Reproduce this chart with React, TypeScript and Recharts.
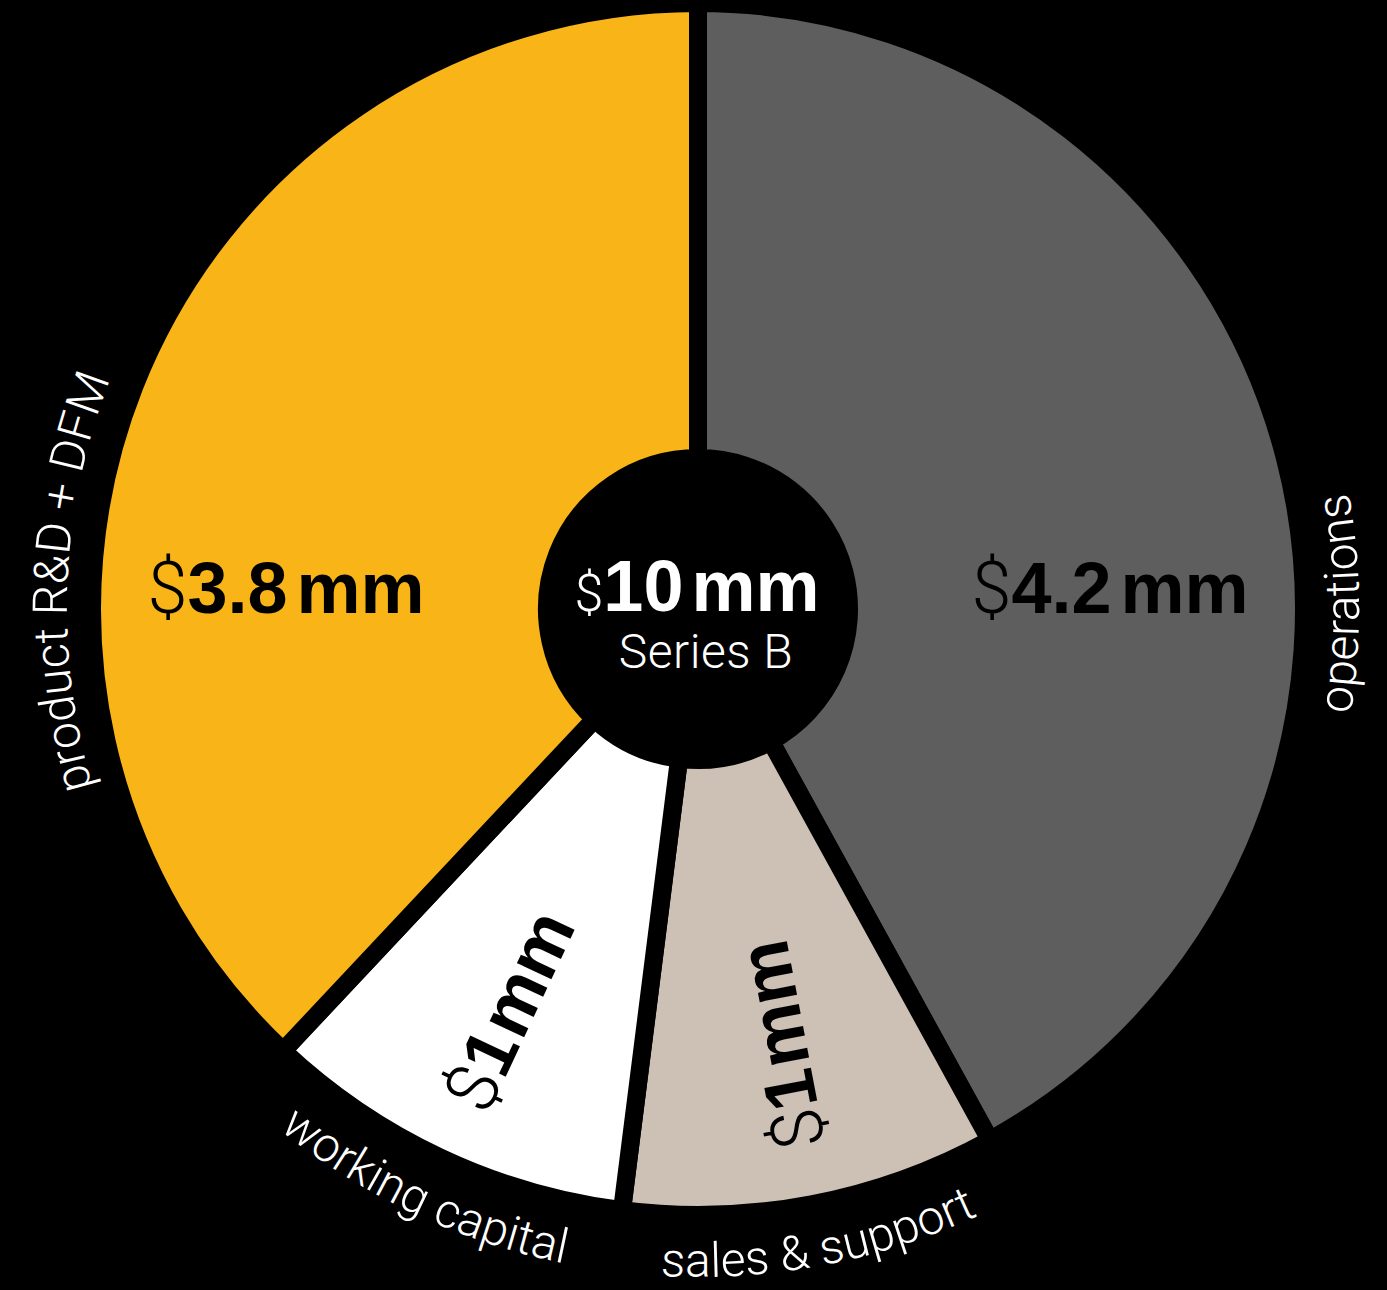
import { Cell, Pie, PieChart } from 'recharts'

const categories = ['operations', 'sales & support', 'working capital', 'product R&D + DFM']
const amounts = [4.2, 1, 1, 3.8]
const amountText = ['4.2', '1', '1', '3.8']
const sliceColors = ['#5e5e5e', '#cdc1b5', '#ffffff', '#f9b518']
const totalText = '10'
const roundName = 'Series B'

const rows = categories.map((name, i) => ({ name, value: amounts[i] }))

const RAD = Math.PI / 180
const W = 1387
const H = 1290
const CX = 698
const CY = 609
const BOLD = '"Liberation Sans", Arial, sans-serif'
const LIGHT = 'Roboto, "Liberation Sans", sans-serif'

const pt = (cx: number, cy: number, r: number, a: number) => ({
  x: cx + r * Math.cos(a * RAD),
  y: cy - r * Math.sin(a * RAD),
})

function arcPath(cx: number, cy: number, r: number, mid: number, topsOut: boolean) {
  const span = 45
  if (topsOut) {
    const s = pt(cx, cy, r, mid + span)
    const e = pt(cx, cy, r, mid - span)
    return `M ${s.x} ${s.y} A ${r} ${r} 0 0 1 ${e.x} ${e.y}`
  }
  const s = pt(cx, cy, r, mid - span)
  const e = pt(cx, cy, r, mid + span)
  return `M ${s.x} ${s.y} A ${r} ${r} 0 0 0 ${e.x} ${e.y}`
}

function Amount({ index }: { index: number }) {
  return (
    <>
      <tspan fontFamily={LIGHT} fontWeight={300}>$</tspan>
      <tspan fontWeight={700}>{amountText[index]}</tspan>
      <tspan fontWeight={700} dx={index === 1 || index === 2 ? 3 : 9}>mm</tspan>
    </>
  )
}

function SliceLabel(props: any) {
  const { cx, cy, midAngle, outerRadius, index, percent } = props
  const big = percent > 0.25
  const side = Math.cos(midAngle * RAD) >= 0 ? 1 : -1

  let value
  if (big) {
    value = (
      <text x={cx + side * 412} y={cy + 4} textAnchor="middle" fill="#000" fontSize={72} fontFamily={BOLD}>
        <Amount index={index} />
      </text>
    )
  } else {
    const p = pt(cx, cy, 444, midAngle)
    const rot = -(midAngle + 180)
    value = (
      <text
        x={p.x}
        y={p.y}
        textAnchor="middle"
        dominantBaseline="central"
        transform={`rotate(${rot} ${p.x} ${p.y})`}
        fill="#000"
        fontSize={72}
        fontFamily={BOLD}
      >
        <Amount index={index} />
      </text>
    )
  }

  // outer name, bent along the rim
  const at = big ? (side > 0 ? 0.5 : 177.5) : midAngle
  const topsOut = big && side < 0
  const bottom = Math.sin(at * RAD) < -0.5
  const r = topsOut ? outerRadius + 25 : bottom ? outerRadius + 62 : outerRadius + 55
  const id = `rim-${index}`

  return (
    <g>
      {value}
      <path id={id} d={arcPath(cx, cy, r, at, topsOut)} fill="none" stroke="none" />
      <text fill="#fff" fontSize={48} fontWeight={300} fontFamily={LIGHT}>
        <textPath href={`#${id}`} startOffset="50%" textAnchor="middle">
          {categories[index]}
        </textPath>
      </text>
      {index === 0 && (
        <g>
          <text x={cx - 1} y={cy + 2} textAnchor="middle" fill="#fff" fontFamily={BOLD}>
            <tspan fontSize={52} fontWeight={300} fontFamily={LIGHT}>$</tspan>
            <tspan fontSize={72} fontWeight={700}>{totalText}</tspan>
            <tspan fontSize={72} fontWeight={700} dx={8}>mm</tspan>
          </text>
          <text
            x={cx + 8}
            y={cy + 59}
            textAnchor="middle"
            fill="#fff"
            fontSize={48}
            fontWeight={300}
            fontFamily={LIGHT}
            letterSpacing={0.5}
          >
            {roundName}
          </text>
        </g>
      )}
    </g>
  )
}

export default function App() {
  return (
    <div style={{ width: W, height: H, background: '#000' }}>
      <style>{`body{margin:0;background:#000}`}</style>
      <PieChart width={W} height={H} margin={{ top: 0, right: 0, bottom: 0, left: 0 }}>
        <Pie
          data={rows}
          dataKey="value"
          nameKey="name"
          cx={CX}
          cy={CY}
          innerRadius={151}
          outerRadius={606}
          startAngle={90}
          endAngle={-270}
          stroke="#000"
          strokeWidth={18}
          label={SliceLabel}
          labelLine={false}
          isAnimationActive={false}
        >
          {rows.map((r, i) => (
            <Cell key={r.name} fill={sliceColors[i]} />
          ))}
        </Pie>
      </PieChart>
    </div>
  )
}
